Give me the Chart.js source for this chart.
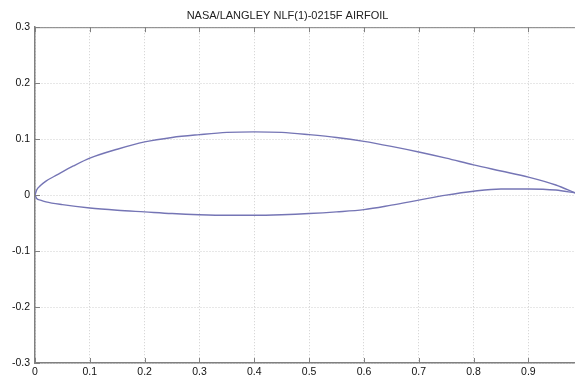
<!DOCTYPE html>
<html>
<head>
<meta charset="utf-8">
<script src="https://cdn.jsdelivr.net/npm/chart.js@4"></script>
<style>
  html, body { margin: 0; padding: 0; background: #fff; }
  #wrap { width: 575px; height: 381px; }
</style>
</head>
<body>
<div id="wrap"><canvas id="airfoil"></canvas></div>
<script>
const titleText = "NASA/LANGLEY NLF(1)-0215F AIRFOIL";

// upper surface
const upperX = [0, 0.003, 0.01, 0.02, 0.04, 0.07, 0.1, 0.15, 0.2, 0.25, 0.3, 0.35, 0.4, 0.45, 0.5, 0.55, 0.6, 0.65, 0.7, 0.75, 0.8, 0.85, 0.9, 0.95, 0.985];
const upperY = [0, 0.009, 0.017, 0.025, 0.036, 0.052, 0.066, 0.082, 0.095, 0.103, 0.108, 0.112, 0.113, 0.112, 0.108, 0.103, 0.096, 0.087, 0.077, 0.066, 0.054, 0.043, 0.032, 0.018, 0.004];

// lower surface
const lowerX = [0, 0.003, 0.01, 0.02, 0.05, 0.1, 0.15, 0.2, 0.25, 0.3, 0.35, 0.4, 0.45, 0.5, 0.55, 0.6, 0.65, 0.7, 0.75, 0.8, 0.85, 0.9, 0.95, 0.985];
const lowerY = [0, -0.006, -0.009, -0.012, -0.017, -0.023, -0.027, -0.030, -0.033, -0.035, -0.036, -0.036, -0.035, -0.033, -0.030, -0.026, -0.018, -0.009, 0.000, 0.007, 0.011, 0.011, 0.009, 0.004];

const xTicks = [0, 0.1, 0.2, 0.3, 0.4, 0.5, 0.6, 0.7, 0.8, 0.9];
const yTicks = [-0.3, -0.2, -0.1, 0, 0.1, 0.2, 0.3];

const toPoints = (xs, ys) => xs.map((x, i) => ({ x: x, y: ys[i] }));
const fmt = (v) => String(Math.round(v * 10) / 10);

const lineColor = "#7575b5";
const axisColor = "#808080";
const fontFamily = "Liberation Sans, Arial, sans-serif";

// matlab style: frame on top, ticks pointing into the plot
const innerTicks = {
  id: "innerTicks",
  afterDraw(chart) {
    const { ctx, chartArea: a, scales } = chart;
    ctx.save();
    ctx.strokeStyle = axisColor;
    ctx.lineWidth = 1;
    ctx.beginPath();
    ctx.moveTo(a.left, a.top + 0.5);
    ctx.lineTo(a.right, a.top + 0.5);
    scales.x.ticks.forEach((t) => {
      const px = Math.round(scales.x.getPixelForValue(t.value)) + 0.5;
      ctx.moveTo(px, a.bottom);
      ctx.lineTo(px, a.bottom - 5);
      ctx.moveTo(px, a.top);
      ctx.lineTo(px, a.top + 5);
    });
    scales.y.ticks.forEach((t) => {
      const py = Math.round(scales.y.getPixelForValue(t.value)) + 0.5;
      ctx.moveTo(a.left, py);
      ctx.lineTo(a.left + 5, py);
    });
    ctx.stroke();
    ctx.restore();
  }
};

new Chart(document.getElementById("airfoil"), {
  type: "scatter",
  data: {
    datasets: [
      {
        label: "upper",
        data: toPoints(upperX, upperY),
        showLine: true,
        borderColor: lineColor,
        borderWidth: 1.4,
        pointRadius: 0,
        cubicInterpolationMode: "monotone"
      },
      {
        label: "lower",
        data: toPoints(lowerX, lowerY),
        showLine: true,
        borderColor: lineColor,
        borderWidth: 1.4,
        pointRadius: 0,
        cubicInterpolationMode: "monotone"
      }
    ]
  },
  options: {
    responsive: true,
    maintainAspectRatio: false,
    animation: false,
    layout: { padding: 0 },
    plugins: {
      legend: { display: false },
      tooltip: { enabled: false },
      title: {
        display: true,
        text: titleText,
        color: "#222",
        font: { family: fontFamily, size: 11, weight: "normal" },
        padding: { top: 9, bottom: 5 }
      }
    },
    scales: {
      x: {
        type: "linear",
        min: 0,
        max: 0.985,
        afterBuildTicks: (scale) => { scale.ticks = xTicks.map((v) => ({ value: v })); },
        afterFit: (scale) => { scale.height = 18; },
        ticks: {
          callback: (v) => fmt(v),
          color: "#111",
          font: { family: fontFamily, size: 10.5 },
          padding: 3,
          maxRotation: 0
        },
        grid: { color: "#cfcfcf", drawTicks: false, lineWidth: 1 },
        border: { display: true, color: axisColor, width: 1.5, dash: [1, 2] }
      },
      y: {
        type: "linear",
        min: -0.3,
        max: 0.3,
        afterBuildTicks: (scale) => { scale.ticks = yTicks.map((v) => ({ value: v })); },
        afterFit: (scale) => { scale.width = 35; },
        ticks: {
          callback: (v) => fmt(v),
          color: "#111",
          font: { family: fontFamily, size: 10.5 },
          padding: 5
        },
        grid: { color: "#cfcfcf", drawTicks: false, lineWidth: 1 },
        border: { display: true, color: axisColor, width: 1.5, dash: [1, 2] }
      }
    }
  },
  plugins: [innerTicks]
});
</script>
</body>
</html>
